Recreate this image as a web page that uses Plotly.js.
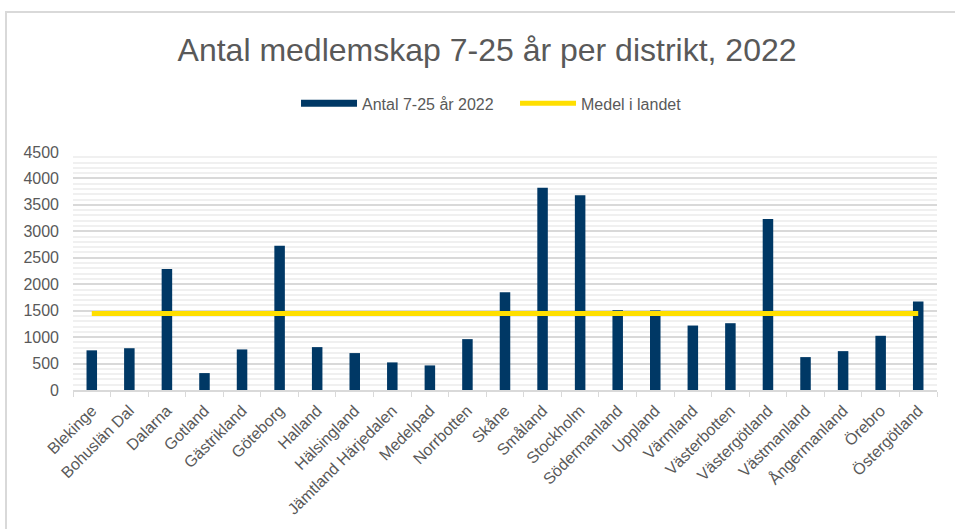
<!DOCTYPE html>
<html>
<head>
<meta charset="utf-8">
<script src="https://cdn.plot.ly/plotly-3.0.1.min.js"></script>
<style>
  html, body { margin: 0; padding: 0; background: #fff; }
  #chart { width: 955px; height: 529px; }
  #frame { position: absolute; left: 5px; top: 11px; width: 960px; height: 530px;
           border-left: 2px solid #d9d9d9; border-top: 2px solid #d9d9d9; pointer-events: none; }
</style>
</head>
<body>
<div id="chart"></div>
<div id="frame"></div>
<script>
const districts = ["Blekinge", "Bohuslän Dal", "Dalarna", "Gotland", "Gästrikland", "Göteborg",
  "Halland", "Hälsingland", "Jämtland Härjedalen", "Medelpad", "Norrbotten", "Skåne", "Småland",
  "Stockholm", "Södermanland", "Uppland", "Värmland", "Västerbotten", "Västergötland",
  "Västmanland", "Ångermanland", "Örebro", "Östergötland"];
const members2022 = [750, 790, 2290, 320, 767, 2728, 811, 698, 522, 465, 962, 1848, 3822,
  3683, 1509, 1505, 1219, 1263, 3231, 622, 735, 1025, 1672];
const nationalMean = [1445, 1445, 1445, 1445, 1445, 1445, 1445, 1445, 1445, 1445, 1445, 1445,
  1445, 1445, 1445, 1445, 1445, 1445, 1445, 1445, 1445, 1445, 1445];
const yTicks = [0, 500, 1000, 1500, 2000, 2500, 3000, 3500, 4000, 4500];

const navy = "#003865";
const gold = "#FFDF00";
const txt = "#595959";

const traces = [
  { type: "bar", x: districts, y: members2022, name: "Antal 7-25 år 2022",
    marker: { color: navy }, showlegend: false, hoverinfo: "x+y" },
  { type: "scatter", mode: "lines", x: [null], y: [null], name: "Antal 7-25 år 2022",
    line: { color: navy, width: 7 }, hoverinfo: "skip" },
  { type: "scatter", mode: "lines", x: districts, y: nationalMean, name: "Medel i landet",
    line: { color: gold, width: 5 }, hoverinfo: "x+y" }
];

const layout = {
  width: 955, height: 529,
  margin: { l: 73, r: 18, t: 152, b: 139 },
  paper_bgcolor: "#fff", plot_bgcolor: "#fff",
  font: { family: "Liberation Sans, Arial, sans-serif", color: txt, size: 16 },
  title: { text: "Antal medlemskap 7-25 år per distrikt, 2022", font: { size: 32, color: txt },
           x: 0.51, xref: "container", xanchor: "center", y: 0.905, yref: "container", yanchor: "middle" },
  bargap: 0.72,
  showlegend: true,
  legend: { orientation: "h", x: 0.5116, xanchor: "center", y: 1.204, yanchor: "middle",
            font: { size: 16, color: txt }, itemwidth: 56, entrywidth: 148, traceorder: "normal" },
  xaxis: { type: "category", tickangle: -45, tickson: "boundaries", ticks: "outside", ticklen: 5,
           tickcolor: "#d9d9d9", showline: true, linecolor: "#d9d9d9", linewidth: 2,
           showgrid: false, tickfont: { size: 16, color: txt }, automargin: false,
           ticklabelstandoff: 3 },
  yaxis: { range: [0, 4500], tickvals: yTicks, ticktext: yTicks.map(String), showline: false,
           gridcolor: "#d9d9d9", gridwidth: 2, zeroline: false, tickfont: { size: 16, color: txt },
           ticklen: 0, ticks: "", automargin: false, ticklabelstandoff: 13,
           minor: { dtick: 100, showgrid: true, gridcolor: "#f0f0f0", gridwidth: 2 } }
};

Plotly.newPlot("chart", traces, layout, { displayModeBar: false, staticPlot: true });
</script>
</body>
</html>
